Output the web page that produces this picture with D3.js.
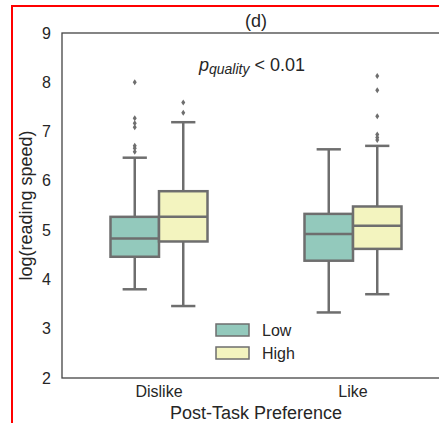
<!DOCTYPE html>
<html>
<head>
<meta charset="utf-8">
<script src="https://cdn.jsdelivr.net/npm/d3@7"></script>
<style>
  body { margin: 0; background: #fff; }
  svg { display: block; font-family: "Liberation Sans", Arial, sans-serif; }
</style>
</head>
<body>
<div id="vis"></div>
<script>
// box plot of reading speed by preference and quality (panel d)

const categories = ['Dislike', 'Like'];
const hues = ['Low', 'High'];
const yTicks = [2, 3, 4, 5, 6, 7, 8, 9];

// stats per category, in hue order [Low, High]
const whiskerLow  = [[3.80, 3.46], [3.33, 3.70]];
const quartile1   = [[4.46, 4.77], [4.38, 4.62]];
const medians     = [[4.83, 5.27], [4.92, 5.09]];
const quartile3   = [[5.27, 5.79], [5.33, 5.48]];
const whiskerHigh = [[6.47, 7.19], [6.64, 6.71]];
const outliers    = [
    [[8.00, 7.27, 7.17, 7.09, 6.71, 6.66, 6.59], [7.59, 7.38]],
    [[], [8.13, 7.84, 7.31, 6.94, 6.88, 6.83]]
];

const width = 439;
const height = 423;
const margins = {top: 33, bottom: 45, left: 62, right: -11};
const lineColor = '#6e6e6e';
const colorScale = d3.scaleOrdinal().domain(hues).range(['#93c9bc', '#f3f4bf']);

const xScale = d3.scaleBand().domain(categories)
    .range([margins.left, width - margins.right]);
const yScale = d3.scaleLinear().domain([2, 9])
    .range([height - margins.bottom, margins.top]);
const boxW = xScale.bandwidth() / 4;
const hueScale = d3.scaleBand().domain(hues).range([-boxW, boxW]);

const svg = d3.select('#vis').append('svg').attr('width', width).attr('height', height);

// red frame
svg.append('rect').attr('x', 12).attr('y', 6).attr('width', 500).attr('height', 500)
    .attr('fill', 'none').attr('stroke', '#ff0000').attr('stroke-width', 2);

// axes frame
const plotRight = width - margins.right;
svg.append('rect')
    .attr('x', margins.left).attr('y', margins.top)
    .attr('width', plotRight - margins.left).attr('height', yScale(2) - yScale(9))
    .attr('fill', 'none').attr('stroke', '#444').attr('stroke-width', 1.3);

const yAxis = d3.axisLeft(yScale).tickValues(yTicks).tickFormat(d3.format('d'))
    .tickSize(0).tickPadding(11);
const yAxisG = svg.append('g').attr('transform', `translate(${margins.left},0)`).call(yAxis);
yAxisG.select('.domain').remove();
yAxisG.selectAll('text').attr('font-size', 16).attr('fill', '#262626')
    .attr('font-family', '"Liberation Sans", Arial, sans-serif');

const xAxis = d3.axisBottom(xScale).tickSize(0).tickPadding(8);
const xAxisG = svg.append('g').attr('transform', `translate(0,${yScale(2)})`).call(xAxis);
xAxisG.select('.domain').remove();
xAxisG.selectAll('text').attr('font-size', 16).attr('fill', '#262626')
    .attr('font-family', '"Liberation Sans", Arial, sans-serif');

// boxes
const boxes = [];
categories.forEach((c, i) => hues.forEach((h, j) => boxes.push({
    cat: c, hue: h,
    lo: whiskerLow[i][j], q1: quartile1[i][j], med: medians[i][j],
    q3: quartile3[i][j], hi: whiskerHigh[i][j], out: outliers[i][j]
})));

const boxG = svg.selectAll('g.box').data(boxes).enter().append('g')
    .attr('class', 'box')
    .attr('transform', d => `translate(${xScale(d.cat) + xScale.bandwidth() / 2 + hueScale(d.hue)},0)`);

boxG.each(function (d) {
    const g = d3.select(this);
    const cx = boxW / 2;
    // whiskers
    g.append('line').attr('x1', cx).attr('x2', cx).attr('y1', yScale(d.q3)).attr('y2', yScale(d.hi));
    g.append('line').attr('x1', cx).attr('x2', cx).attr('y1', yScale(d.q1)).attr('y2', yScale(d.lo));
    g.append('line').attr('x1', cx - boxW / 4).attr('x2', cx + boxW / 4).attr('y1', yScale(d.hi)).attr('y2', yScale(d.hi));
    g.append('line').attr('x1', cx - boxW / 4).attr('x2', cx + boxW / 4).attr('y1', yScale(d.lo)).attr('y2', yScale(d.lo));
    g.append('rect').attr('x', 0).attr('width', boxW)
        .attr('y', yScale(d.q3)).attr('height', yScale(d.q1) - yScale(d.q3))
        .attr('fill', colorScale(d.hue));
    g.append('line').attr('x1', 0).attr('x2', boxW).attr('y1', yScale(d.med)).attr('y2', yScale(d.med));
    g.selectAll('path.flier').data(d.out).enter().append('path')
        .attr('class', 'flier')
        .attr('d', v => `M${cx},${yScale(v) - 3}L${cx + 2},${yScale(v)}L${cx},${yScale(v) + 3}L${cx - 2},${yScale(v)}Z`)
        .attr('fill', lineColor).attr('stroke', 'none');
});
boxG.selectAll('line, rect').attr('stroke', lineColor).attr('stroke-width', 2.5);

// legend
const legend = svg.append('g').attr('transform', 'translate(216,324)');
hues.forEach((h, i) => {
    legend.append('rect').attr('x', 0).attr('y', i * 23).attr('width', 33).attr('height', 12)
        .attr('fill', colorScale(h)).attr('stroke', lineColor).attr('stroke-width', 1.5);
    legend.append('text').attr('x', 46).attr('y', i * 23 + 12).attr('font-size', 16)
        .attr('fill', '#262626').text(h);
});

// annotation
const ann = svg.append('text').attr('x', 199).attr('y', 71).attr('font-size', 18).attr('fill', '#262626');
ann.append('tspan').attr('font-style', 'italic').text('p');
ann.append('tspan').attr('font-style', 'italic').attr('font-size', 14).attr('dy', 3).text('quality');
ann.append('tspan').attr('dy', -3).attr('dx', 5).text('< 0.01');

// title and labels
const cxAxes = (margins.left + plotRight) / 2;
svg.append('text').attr('x', cxAxes).attr('y', 27).attr('text-anchor', 'middle')
    .attr('font-size', 18).attr('fill', '#262626').text('(d)');
svg.append('text').attr('x', cxAxes).attr('y', 419).attr('text-anchor', 'middle')
    .attr('font-size', 18).attr('fill', '#262626').text('Post-Task Preference');
svg.append('text').attr('transform', `translate(32,${yScale(5.5)}) rotate(-90)`)
    .attr('text-anchor', 'middle').attr('font-size', 18).attr('fill', '#262626')
    .text('log(reading speed)');
</script>
</body>
</html>
